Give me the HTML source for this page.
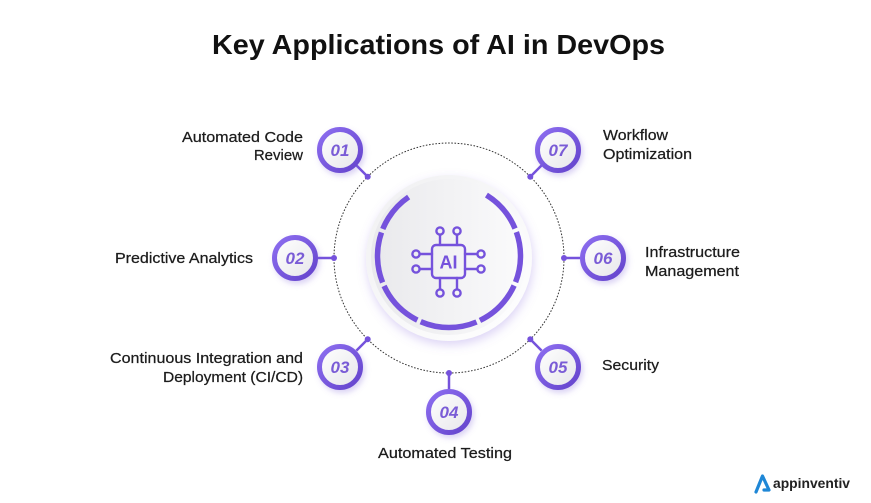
<!DOCTYPE html>
<html><head><meta charset="utf-8"><style>
html,body{margin:0;padding:0;background:#fff;}
svg{display:block;}
text{font-family:"Liberation Sans",sans-serif;}
</style></head><body>
<svg width="871" height="503" viewBox="0 0 871 503" xmlns="http://www.w3.org/2000/svg">
<defs>
  <filter id="sh" x="-50%" y="-50%" width="200%" height="200%">
    <feDropShadow dx="2" dy="3" stdDeviation="3" flood-color="#7a5cd6" flood-opacity="0.28"/>
  </filter>
  <filter id="dsh" x="-30%" y="-30%" width="160%" height="160%">
    <feDropShadow dx="1" dy="4" stdDeviation="5" flood-color="#8a70e0" flood-opacity="0.3"/>
  </filter>
  <linearGradient id="ring" x1="0" y1="0" x2="1" y2="1">
    <stop offset="0" stop-color="#8d6ef0"/>
    <stop offset="1" stop-color="#6444cc"/>
  </linearGradient>
  <linearGradient id="inner" x1="0" y1="0" x2="1" y2="1">
    <stop offset="0" stop-color="#ffffff"/>
    <stop offset="1" stop-color="#e6e6ea"/>
  </linearGradient>
  <linearGradient id="discOuter" x1="0" y1="0" x2="1" y2="1">
    <stop offset="0" stop-color="#f0f0f2"/>
    <stop offset="1" stop-color="#ffffff"/>
  </linearGradient>
  <linearGradient id="discInner" x1="0" y1="0" x2="1" y2="0">
    <stop offset="0" stop-color="#e9e9ec"/>
    <stop offset="1" stop-color="#fbfbfc"/>
  </linearGradient>
</defs>

<!-- Title -->
<text x="212" y="54" font-size="28" font-weight="bold" fill="#111" textLength="453" lengthAdjust="spacingAndGlyphs">Key Applications of AI in DevOps</text>

<!-- dotted circle -->
<circle cx="449" cy="258" r="115" fill="none" stroke="#333" stroke-width="1" stroke-dasharray="1.6 1.6"/>

<!-- central disc -->
<circle cx="449" cy="258" r="83" fill="url(#discOuter)" filter="url(#dsh)"/>
<circle cx="449" cy="257" r="78" fill="url(#discInner)"/>
<circle cx="449" cy="256" r="71.5" fill="none" stroke="#7552dc" stroke-width="5.5" pathLength="360" stroke-dasharray="35.5 3 41 3 40 3 46 3 39 3 41 3 33.5 66" transform="rotate(-58 449 256)"/>

<!-- AI icon -->
<g fill="none" stroke="#7552dc" stroke-width="2.4" stroke-linecap="round">
  <rect x="432" y="245" width="33" height="33" rx="4"/>
  <circle cx="440" cy="231" r="3.6"/><line x1="440" y1="234.6" x2="440" y2="245"/>
  <circle cx="457" cy="231" r="3.6"/><line x1="457" y1="234.6" x2="457" y2="245"/>
  <circle cx="440" cy="293" r="3.6"/><line x1="440" y1="278" x2="440" y2="289.4"/>
  <circle cx="457" cy="293" r="3.6"/><line x1="457" y1="278" x2="457" y2="289.4"/>
  <circle cx="416" cy="254" r="3.6"/><line x1="419.6" y1="254" x2="432" y2="254"/>
  <circle cx="416" cy="269" r="3.6"/><line x1="419.6" y1="269" x2="432" y2="269"/>
  <circle cx="481" cy="254" r="3.6"/><line x1="465" y1="254" x2="477.4" y2="254"/>
  <circle cx="481" cy="269" r="3.6"/><line x1="465" y1="269" x2="477.4" y2="269"/>
</g>
<text x="448.5" y="268.5" font-size="18" font-weight="bold" fill="#7552dc" text-anchor="middle">AI</text>

<!-- connectors -->
<g stroke="#7552dc" stroke-width="2.5">
  <line x1="356.4" y1="165.4" x2="367.7" y2="176.7"/>
  <line x1="318" y1="258" x2="334" y2="258"/>
  <line x1="356.4" y1="350.6" x2="367.7" y2="339.3"/>
  <line x1="449" y1="389" x2="449" y2="373"/>
  <line x1="541.6" y1="350.6" x2="530.3" y2="339.3"/>
  <line x1="580" y1="258" x2="564" y2="258"/>
  <line x1="541.6" y1="165.4" x2="530.3" y2="176.7"/>
</g>
<g fill="#7552dc">
  <circle cx="367.7" cy="176.7" r="3"/>
  <circle cx="334" cy="258" r="3"/>
  <circle cx="367.7" cy="339.3" r="3"/>
  <circle cx="449" cy="373" r="3"/>
  <circle cx="530.3" cy="339.3" r="3"/>
  <circle cx="564" cy="258" r="3"/>
  <circle cx="530.3" cy="176.7" r="3"/>
</g>

<!-- number nodes -->
<g>
  <g filter="url(#sh)">
    <circle cx="340" cy="150" r="20.5" fill="url(#inner)" stroke="url(#ring)" stroke-width="5"/>
    <circle cx="295" cy="258" r="20.5" fill="url(#inner)" stroke="url(#ring)" stroke-width="5"/>
    <circle cx="340" cy="367" r="20.5" fill="url(#inner)" stroke="url(#ring)" stroke-width="5"/>
    <circle cx="449" cy="412" r="20.5" fill="url(#inner)" stroke="url(#ring)" stroke-width="5"/>
    <circle cx="558" cy="367" r="20.5" fill="url(#inner)" stroke="url(#ring)" stroke-width="5"/>
    <circle cx="603" cy="258" r="20.5" fill="url(#inner)" stroke="url(#ring)" stroke-width="5"/>
    <circle cx="558" cy="150" r="20.5" fill="url(#inner)" stroke="url(#ring)" stroke-width="5"/>
  </g>
  <g font-size="17" font-weight="bold" font-style="italic" fill="#7a5cd6" text-anchor="middle">
    <text x="340" y="156">01</text>
    <text x="295" y="264">02</text>
    <text x="340" y="373">03</text>
    <text x="449" y="418">04</text>
    <text x="558" y="373">05</text>
    <text x="603" y="264">06</text>
    <text x="558" y="156">07</text>
  </g>
</g>

<!-- labels -->
<g font-size="15" fill="#1c1c1c" stroke="#1c1c1c" stroke-width="0.25">
  <text x="182" y="142" textLength="121" lengthAdjust="spacingAndGlyphs">Automated Code</text>
  <text x="303" y="160" text-anchor="end">Review</text>
  <text x="115" y="263" textLength="138" lengthAdjust="spacingAndGlyphs">Predictive Analytics</text>
  <text x="110" y="363" textLength="193" lengthAdjust="spacingAndGlyphs">Continuous Integration and</text>
  <text x="163" y="382" textLength="140" lengthAdjust="spacingAndGlyphs">Deployment (CI/CD)</text>
  <text x="378" y="458" textLength="134" lengthAdjust="spacingAndGlyphs">Automated Testing</text>
  <text x="602" y="370" textLength="57" lengthAdjust="spacingAndGlyphs">Security</text>
  <text x="645" y="257" textLength="95" lengthAdjust="spacingAndGlyphs">Infrastructure</text>
  <text x="645" y="276" textLength="94" lengthAdjust="spacingAndGlyphs">Management</text>
  <text x="603" y="140" textLength="65" lengthAdjust="spacingAndGlyphs">Workflow</text>
  <text x="603" y="159" textLength="89" lengthAdjust="spacingAndGlyphs">Optimization</text>
</g>

<!-- logo -->
<path d="M756 492 L762.5 476 L769 490 L764 490" fill="none" stroke="#1f87d6" stroke-width="3.2" stroke-linejoin="round" stroke-linecap="round"/>
<text x="773" y="488" font-size="14" font-weight="bold" fill="#222" textLength="77" lengthAdjust="spacingAndGlyphs">appinventiv</text>
</svg>
</body></html>
